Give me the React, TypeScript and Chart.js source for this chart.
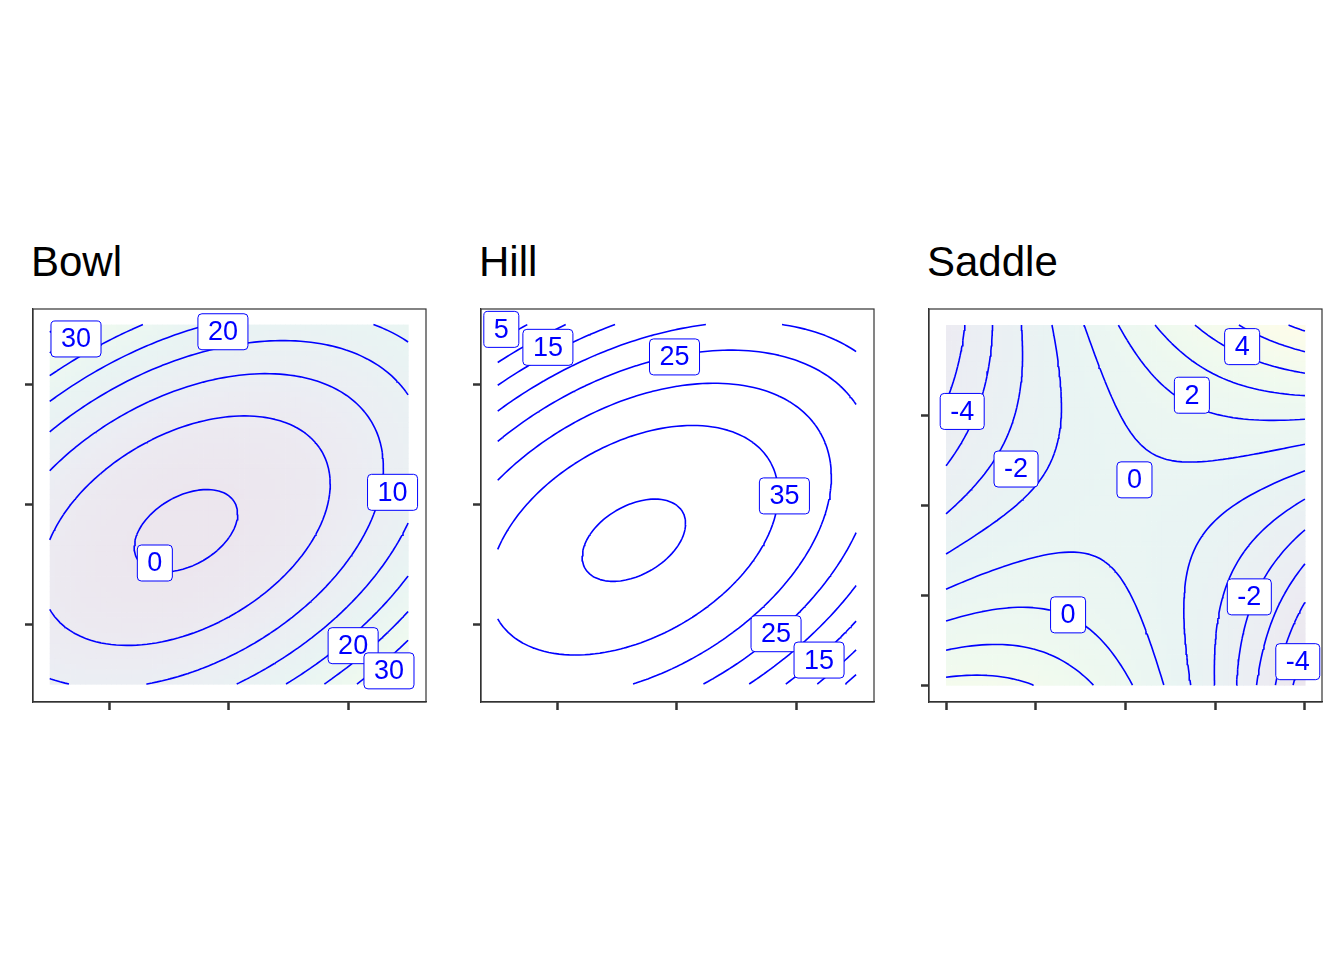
import React, { useEffect, useRef } from 'react';
import { Chart, registerables } from 'chart.js';

Chart.register(...registerables);

// surface shapes: [centerX, centerY, angleDeg, axisA, axisB, scale, offset]
const bowlShape = [-0.36, -0.22, 30, 1.8, 1.1, 10.74, -0.74];
const hillShape = [-0.36, -0.3, 30, 1.8, 1.1, -10.74, 40.74];
// saddle: [xy, x^2*y, y^2, x^2, const]
const saddleCoef = [5, 1, 1.5, -1.9, -0.3];

const bowlLevels = [0, 5, 10, 15, 20, 25, 30, 35, 40];
const hillLevels = [0, 5, 10, 15, 20, 25, 30, 35, 40];
const saddleLevels = [-8, -7, -6, -5, -4, -3, -2, -1, 0, 1, 2, 3, 4, 5, 6, 7, 8];

const bowlLabels: [number, number, string][] = [
  [-1.28, 1.38, '30'], [-0.05, 1.44, '20'], [1.37, 0.1, '10'],
  [-0.62, -0.49, '0'], [1.04, -1.18, '20'], [1.34, -1.39, '30'],
];
const hillLabels: [number, number, string][] = [
  [-1.47, 1.46, '5'], [-1.08, 1.31, '15'], [-0.02, 1.23, '25'],
  [0.9, 0.07, '35'], [0.83, -1.08, '25'], [1.19, -1.3, '15'],
];
const saddleLabels: [number, number, string][] = [
  [-0.91, 0.52, '-4'], [-0.61, 0.2, '-2'], [0.05, 0.14, '0'], [0.65, 0.88, '4'],
  [0.37, 0.61, '2'], [-0.32, -0.61, '0'], [0.69, -0.51, '-2'], [0.96, -0.87, '-4'],
];

const bowlTicks = [-1, 0, 1];
const saddleXTicks = [-1, -0.5, 0, 0.5, 1];
const saddleYTicks = [-1, -0.5, 0, 0.5];

function quadShape(s: number[]) {
  const [cx, cy, ang, a, b, k, off] = s;
  const t = (ang * Math.PI) / 180;
  return (x: number, y: number) => {
    const dx = x - cx, dy = y - cy;
    const u = dx * Math.cos(t) + dy * Math.sin(t);
    const v = -dx * Math.sin(t) + dy * Math.cos(t);
    return k * ((u / a) ** 2 + (v / b) ** 2) + off;
  };
}

function saddleFn(c: number[]) {
  return (x: number, y: number) => c[0] * x * y + c[1] * x * x * y + c[2] * y * y + c[3] * x * x + c[4];
}

const N = 70;

function makeGrid(f: (x: number, y: number) => number, lo: number, hi: number) {
  const xs: number[] = [];
  for (let i = 0; i <= N; i++) xs.push(lo + ((hi - lo) * i) / N);
  const z = xs.map((y) => xs.map((x) => f(x, y)));
  return { xs, z };
}

function contour(g: { xs: number[]; z: number[][] }, level: number) {
  const out: { x: number; y: number }[] = [];
  const { xs, z } = g;
  for (let j = 0; j < N; j++) {
    for (let i = 0; i < N; i++) {
      const c = [
        [xs[i], xs[j], z[j][i]],
        [xs[i + 1], xs[j], z[j][i + 1]],
        [xs[i + 1], xs[j + 1], z[j + 1][i + 1]],
        [xs[i], xs[j + 1], z[j + 1][i]],
      ];
      const pts: { x: number; y: number }[] = [];
      for (let e = 0; e < 4; e++) {
        const p = c[e], q = c[(e + 1) % 4];
        if ((p[2] < level) !== (q[2] < level)) {
          const t = (level - p[2]) / (q[2] - p[2]);
          pts.push({ x: p[0] + t * (q[0] - p[0]), y: p[1] + t * (q[1] - p[1]) });
        }
      }
      for (let k = 0; k + 1 < pts.length; k += 2) {
        out.push(pts[k], pts[k + 1], { x: pts[k].x, y: NaN });
      }
    }
  }
  return out;
}

const viridis = [[68, 1, 84], [59, 82, 139], [33, 145, 140], [94, 201, 98], [253, 231, 37]];
function vcol(t: number, alpha: number) {
  const s = Math.max(0, Math.min(0.9999, t)) * 4;
  const i = Math.floor(s), f = s - i;
  const c = viridis[i].map((v, k) => {
    const ch = v + f * (viridis[i + 1][k] - v);
    return Math.round(255 * (1 - alpha) + ch * alpha);
  });
  return `rgb(${c[0]},${c[1]},${c[2]})`;
}

interface PanelProps {
  title: string;
  left: number;
  f: (x: number, y: number) => number;
  levels: number[];
  labels: [number, number, string][];
  dataLo: number;
  dataHi: number;
  xRange: [number, number];
  yRange: [number, number];
  xTicks: number[];
  yTicks: number[];
  fillAlpha: number;
}

const Panel = (p: PanelProps): JSX.Element => {
  const canvasRef = useRef<HTMLCanvasElement>(null);

  useEffect(() => {
    const ctx = canvasRef.current.getContext('2d');
    const grid = makeGrid(p.f, p.dataLo, p.dataHi);
    let zmin = Infinity, zmax = -Infinity;
    grid.z.forEach((r) => r.forEach((v) => { zmin = Math.min(zmin, v); zmax = Math.max(zmax, v); }));

    const fillPlugin = {
      id: 'fill',
      beforeDatasetsDraw(chart: any) {
        if (p.fillAlpha <= 0) return;
        const c = chart.ctx, xs = chart.scales.x, ys = chart.scales.y;
        for (let j = 0; j < N; j++) {
          for (let i = 0; i < N; i++) {
            const v = (grid.z[j][i] + grid.z[j + 1][i + 1] + grid.z[j][i + 1] + grid.z[j + 1][i]) / 4;
            const x0 = xs.getPixelForValue(grid.xs[i]), x1 = xs.getPixelForValue(grid.xs[i + 1]);
            const y0 = ys.getPixelForValue(grid.xs[j + 1]), y1 = ys.getPixelForValue(grid.xs[j]);
            c.fillStyle = vcol((v - zmin) / (zmax - zmin), p.fillAlpha);
            c.fillRect(x0, y0, x1 - x0 + 0.6, y1 - y0 + 0.6);
          }
        }
      },
      afterDatasetsDraw(chart: any) {
        const c = chart.ctx, xs = chart.scales.x, ys = chart.scales.y;
        const a = chart.chartArea;
        c.save();
        c.strokeStyle = '#333';
        c.lineWidth = 1.2;
        c.strokeRect(a.left, a.top, a.right - a.left, a.bottom - a.top);
        c.font = '27px "Liberation Sans", Arial, sans-serif';
        c.textAlign = 'center';
        c.textBaseline = 'middle';
        p.labels.forEach(([lx, ly, txt]) => {
          const px = xs.getPixelForValue(lx), py = ys.getPixelForValue(ly);
          const w = c.measureText(txt).width + 20, h = 36;
          c.beginPath();
          c.roundRect(px - w / 2, py - h / 2, w, h, 4);
          c.fillStyle = '#fff';
          c.fill();
          c.strokeStyle = '#0000ff';
          c.lineWidth = 1;
          c.stroke();
          c.fillStyle = '#0000ff';
          c.fillText(txt, px, py + 1);
        });
        c.restore();
      },
    };

    const axis = (range: [number, number], ticks: number[], isY: boolean) => ({
      type: 'linear' as const,
      min: range[0],
      max: range[1],
      afterBuildTicks: (s: any) => { s.ticks = ticks.map((v) => ({ value: v })); },
      afterFit: (s: any) => { if (isY) s.width = 10; else s.height = 10; },
      ticks: { callback: () => '', font: { size: 1 }, padding: 0 },
      grid: { drawOnChartArea: false, drawTicks: true, tickLength: 8, tickColor: '#333', tickWidth: 2.5 },
      border: { display: true, color: '#333', width: 1.2 },
    });

    const chart = new Chart(ctx, {
      type: 'scatter',
      data: {
        datasets: p.levels.map((lv) => ({
          data: contour(grid, lv),
          showLine: true,
          borderColor: '#0000ff',
          borderWidth: 1.6,
          pointRadius: 0,
          spanGaps: false,
        })),
      },
      options: {
        responsive: false,
        animation: false,
        layout: { padding: { top: 1, right: 2 } },
        plugins: { legend: { display: false }, tooltip: { enabled: false } },
        scales: { x: axis(p.xRange, p.xTicks, false), y: axis(p.yRange, p.yTicks, true) },
      },
      plugins: [fillPlugin],
    });
    return () => {
      chart.destroy();
    };
  }, [p]);

  return (
    <>
      <div style={{ position: 'absolute', left: p.left - 2, top: 241, font: '42px "Liberation Sans", Arial, sans-serif', lineHeight: '42px' }}>
        {p.title}
      </div>
      <canvas ref={canvasRef} width={405} height={404} style={{ position: 'absolute', left: p.left - 10, top: 308 }} />
    </>
  );
};

const bowlF = quadShape(bowlShape);
const hillF = quadShape(hillShape);
const saddleF = saddleFn(saddleCoef);

const App = (): JSX.Element => (
  <div style={{ position: 'fixed', left: 0, top: 0, width: 1344, height: 960, background: '#fff' }}>
    <Panel title="Bowl" left={33} f={bowlF} levels={bowlLevels} labels={bowlLabels} dataLo={-1.5} dataHi={1.5}
      xRange={[-1.64, 1.65]} yRange={[-1.65, 1.63]} xTicks={bowlTicks} yTicks={bowlTicks} fillAlpha={0.1} />
    <Panel title="Hill" left={481} f={hillF} levels={hillLevels} labels={hillLabels} dataLo={-1.5} dataHi={1.5}
      xRange={[-1.64, 1.65]} yRange={[-1.65, 1.63]} xTicks={bowlTicks} yTicks={bowlTicks} fillAlpha={0} />
    <Panel title="Saddle" left={929} f={saddleF} levels={saddleLevels} labels={saddleLabels} dataLo={-1} dataHi={1}
      xRange={[-1.095, 1.095]} yRange={[-1.094, 1.089]} xTicks={saddleXTicks} yTicks={saddleYTicks} fillAlpha={0.1} />
  </div>
);

export default App;
